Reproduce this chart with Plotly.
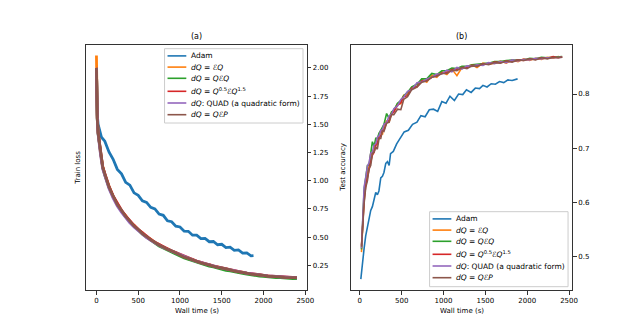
import plotly.graph_objects as go

# ---------------- data ----------------
SERIES_NAMES = [
    "Adam",
    "<i>dQ</i> = <i>ℰQ</i>",
    "<i>dQ</i> = <i>QℰQ</i>",
    "<i>dQ</i> = <i>Q</i><sup>0.5</sup><i>ℰQ</i><sup>1.5</sup>",
    "<i>dQ</i>: QUAD (a quadratic form)",
    "<i>dQ</i> = <i>QℰP</i>",
]
COLORS = ["#1f77b4", "#ff7f0e", "#2ca02c", "#d62728", "#9467bd", "#8c564b"]

# (a) train loss
ADAM_LOSS_T = [0, 5, 10, 20, 35, 60, 100, 150, 200, 250, 300, 350, 400, 450, 500, 550, 600,
               650, 700, 750, 800, 850, 900, 950, 1000, 1050, 1100, 1150, 1200, 1250, 1300,
               1350, 1400, 1450, 1500, 1550, 1600, 1650, 1700, 1750, 1800, 1850, 1880]
ADAM_LOSS = [2.00, 1.74, 1.58, 1.50, 1.445, 1.385, 1.35, 1.255, 1.19, 1.10, 1.06, 0.985,
             0.96, 0.892, 0.87, 0.822, 0.808, 0.764, 0.75, 0.704, 0.693, 0.644, 0.636,
             0.597, 0.59, 0.552, 0.551, 0.517, 0.518, 0.487, 0.488, 0.459, 0.461, 0.432,
             0.436, 0.407, 0.411, 0.382, 0.386, 0.358, 0.36, 0.334, 0.336]

LOSS_T = [0, 5, 10, 20, 35, 50, 75, 100, 150, 200, 250, 300, 350, 400, 450, 500, 550, 600,
          650, 700, 750, 800, 850, 900, 950, 1000, 1050, 1100, 1150, 1200, 1250, 1300, 1350,
          1400, 1450, 1500, 1550, 1600, 1650, 1700, 1750, 1800, 1850, 1900, 1950, 2000, 2050,
          2100, 2150, 2200, 2250, 2300, 2350, 2400]
LOSS_EQ = [2.11, 1.76, 1.56, 1.43, 1.33, 1.235, 1.125, 1.055,
           0.95, 0.855, 0.795, 0.73, 0.69, 0.636, 0.605, 0.563, 0.537, 0.499,
           0.481, 0.449, 0.434, 0.407, 0.396, 0.373, 0.363, 0.337, 0.327, 0.307,
           0.301, 0.282, 0.276, 0.259, 0.255, 0.239, 0.236, 0.222, 0.219, 0.205,
           0.203, 0.19, 0.189, 0.176, 0.176, 0.165, 0.166, 0.156, 0.157, 0.150,
           0.151, 0.145, 0.146, 0.140, 0.141, 0.137]
LOSS_QEQ = [1.99, 1.71, 1.54, 1.415, 1.32, 1.235, 1.115, 1.05,
            0.94, 0.86, 0.785, 0.732, 0.678, 0.636, 0.594, 0.562, 0.526, 0.498,
            0.469, 0.446, 0.421, 0.403, 0.384, 0.368, 0.351, 0.332, 0.316, 0.303,
            0.289, 0.277, 0.264, 0.255, 0.243, 0.235, 0.223, 0.217, 0.206, 0.200,
            0.191, 0.186, 0.178, 0.172, 0.165, 0.161, 0.155, 0.152, 0.147, 0.145,
            0.141, 0.140, 0.136, 0.135, 0.133, 0.132]
LOSS_Q05 = [2.00, 1.73, 1.555, 1.425, 1.33, 1.245, 1.125, 1.065,
            0.95, 0.865, 0.795, 0.738, 0.688, 0.643, 0.604, 0.569, 0.537, 0.505,
            0.48, 0.455, 0.433, 0.412, 0.396, 0.378, 0.363, 0.342, 0.327, 0.312,
            0.301, 0.287, 0.276, 0.264, 0.255, 0.244, 0.236, 0.227, 0.219, 0.210,
            0.202, 0.195, 0.188, 0.181, 0.175, 0.170, 0.165, 0.161, 0.157, 0.154,
            0.151, 0.149, 0.146, 0.144, 0.142, 0.141]
LOSS_QUAD = [2.00, 1.72, 1.545, 1.41, 1.31, 1.225, 1.105, 1.045,
             0.93, 0.845, 0.775, 0.72, 0.668, 0.627, 0.589, 0.556, 0.524, 0.496,
             0.471, 0.447, 0.427, 0.407, 0.391, 0.374, 0.358, 0.339, 0.324, 0.309,
             0.298, 0.285, 0.274, 0.262, 0.253, 0.243, 0.234, 0.226, 0.217, 0.209,
             0.201, 0.194, 0.187, 0.180, 0.174, 0.169, 0.164, 0.160, 0.156, 0.153,
             0.150, 0.148, 0.145, 0.143, 0.141, 0.139]
LOSS_QEP = [2.00, 1.72, 1.55, 1.42, 1.325, 1.24, 1.12, 1.06,
            0.945, 0.862, 0.788, 0.737, 0.683, 0.642, 0.598, 0.569, 0.531, 0.505,
            0.475, 0.454, 0.428, 0.412, 0.391, 0.378, 0.358, 0.342, 0.322, 0.311,
            0.296, 0.286, 0.271, 0.263, 0.250, 0.243, 0.231, 0.226, 0.214, 0.209,
            0.198, 0.194, 0.184, 0.180, 0.171, 0.169, 0.161, 0.160, 0.153, 0.153,
            0.147, 0.148, 0.142, 0.143, 0.139, 0.140]

# (b) test accuracy
ADAM_ACC_T = [12, 30, 51, 70, 90, 110, 130, 150, 169, 190, 210, 228, 250, 270, 288, 310, 330,
              350, 367, 400, 440, 485, 530, 580, 630, 683, 730, 780, 830, 880, 930, 980, 1030,
              1077, 1130, 1180, 1230, 1274, 1330, 1380, 1430, 1471, 1520, 1570, 1620, 1669,
              1720, 1770, 1820, 1885]
ADAM_ACC = [0.458, 0.492, 0.515, 0.538, 0.552, 0.565, 0.585, 0.592, 0.603, 0.618, 0.614,
            0.621, 0.645, 0.648, 0.655, 0.672, 0.675, 0.668, 0.690, 0.694, 0.708, 0.718,
            0.730, 0.733, 0.744, 0.748, 0.760, 0.758, 0.771, 0.772, 0.768, 0.786, 0.783,
            0.796, 0.788, 0.800, 0.799, 0.808, 0.803, 0.811, 0.810, 0.816, 0.813, 0.819,
            0.818, 0.823, 0.821, 0.826, 0.825, 0.828]

ACC_T = [20, 35, 51, 70, 91, 110, 130, 150, 170, 190, 209, 230, 250, 270, 288, 320, 350, 380,
         406, 450, 490, 524, 570, 620, 683, 740, 800, 860, 920, 980, 1040, 1100, 1160, 1220,
         1280, 1340, 1400, 1471, 1540, 1610, 1680, 1750, 1820, 1890, 1960, 2030, 2100, 2170,
         2240, 2310, 2370, 2418]
ACC_EQ = [0.508, 0.57, 0.612, 0.635, 0.658, 0.665, 0.689, 0.69, 0.703, 0.71,
          0.706, 0.726, 0.73, 0.725, 0.742, 0.75, 0.748, 0.767, 0.768, 0.782,
          0.782, 0.798, 0.799, 0.812, 0.813, 0.827, 0.822, 0.835, 0.831, 0.841,
          0.836, 0.846, 0.834, 0.849, 0.851, 0.854, 0.849, 0.857, 0.855, 0.857,
          0.861, 0.857, 0.863, 0.86, 0.865, 0.862, 0.866, 0.864, 0.868, 0.866,
          0.869, 0.868]
ACC_QEQ = [0.513, 0.58, 0.622, 0.645, 0.668, 0.668, 0.692, 0.712, 0.703, 0.718,
           0.718, 0.728, 0.733, 0.74, 0.744, 0.764, 0.755, 0.767, 0.77, 0.783,
           0.788, 0.797, 0.803, 0.813, 0.818, 0.828, 0.828, 0.838, 0.836, 0.843,
           0.843, 0.848, 0.847, 0.851, 0.851, 0.854, 0.855, 0.857, 0.857, 0.86,
           0.86, 0.862, 0.862, 0.863, 0.863, 0.866, 0.865, 0.868, 0.867, 0.868,
           0.868, 0.869]
ACC_Q05 = [0.52, 0.568, 0.602, 0.63, 0.645, 0.665, 0.675, 0.687, 0.692, 0.705,
           0.709, 0.72, 0.723, 0.733, 0.733, 0.748, 0.752, 0.763, 0.767, 0.779,
           0.784, 0.795, 0.797, 0.811, 0.814, 0.824, 0.825, 0.831, 0.834, 0.839,
           0.84, 0.845, 0.845, 0.849, 0.849, 0.853, 0.852, 0.856, 0.855, 0.859,
           0.858, 0.861, 0.86, 0.863, 0.862, 0.865, 0.864, 0.867, 0.866, 0.869,
           0.867, 0.869]
ACC_QUAD = [0.515, 0.585, 0.628, 0.645, 0.667, 0.673, 0.691, 0.692, 0.706, 0.708,
            0.72, 0.723, 0.733, 0.734, 0.744, 0.747, 0.76, 0.763, 0.773, 0.778,
            0.79, 0.794, 0.805, 0.808, 0.821, 0.822, 0.828, 0.831, 0.837, 0.837,
            0.844, 0.841, 0.849, 0.846, 0.852, 0.851, 0.854, 0.853, 0.858, 0.856,
            0.86, 0.858, 0.863, 0.861, 0.864, 0.863, 0.866, 0.865, 0.867, 0.867,
            0.868, 0.868]
ACC_QEP = [0.518, 0.56, 0.598, 0.627, 0.64, 0.662, 0.668, 0.69, 0.693, 0.702,
           0.698, 0.718, 0.718, 0.732, 0.731, 0.746, 0.748, 0.762, 0.762, 0.772,
           0.771, 0.79, 0.795, 0.808, 0.813, 0.822, 0.824, 0.831, 0.833, 0.838,
           0.838, 0.844, 0.843, 0.849, 0.847, 0.852, 0.851, 0.856, 0.854, 0.858,
           0.857, 0.861, 0.859, 0.863, 0.862, 0.865, 0.863, 0.867, 0.865, 0.868,
           0.867, 0.868]

TIME_TICKS = [0, 500, 1000, 1500, 2000, 2500]
LOSS_TICKS = [0.25, 0.50, 0.75, 1.00, 1.25, 1.50, 1.75, 2.00]
ACC_TICKS = [0.5, 0.6, 0.7, 0.8]
PANEL_TITLES = ["(a)", "(b)"]
X_LABEL = "Wall time (s)"
Y_LABELS = ["Train loss", "Test accuracy"]

# ---------------- figure ----------------
W, H = 634, 317
FONT = "DejaVu Sans, Liberation Sans, sans-serif"


def fx(p):
    return p / W


def fy(p):
    return 1 - p / H


fig = go.Figure()

loss_series = [(ADAM_LOSS_T, ADAM_LOSS), (LOSS_T, LOSS_EQ), (LOSS_T, LOSS_QEQ),
               (LOSS_T, LOSS_Q05), (LOSS_T, LOSS_QUAD), (LOSS_T, LOSS_QEP)]
acc_series = [(ADAM_ACC_T, ADAM_ACC), (ACC_T, ACC_EQ), (ACC_T, ACC_QEQ),
              (ACC_T, ACC_Q05), (ACC_T, ACC_QUAD), (ACC_T, ACC_QEP)]

for (t, v), name, c in zip(loss_series, SERIES_NAMES, COLORS):
    fig.add_trace(go.Scatter(x=t, y=v, mode="lines", name=name, showlegend=False,
                             line=dict(color=c, width=2.8), xaxis="x", yaxis="y"))
for (t, v), name, c in zip(acc_series, SERIES_NAMES, COLORS):
    fig.add_trace(go.Scatter(x=t, y=v, mode="lines", name=name, showlegend=False,
                             line=dict(color=c, width=1.6), xaxis="x2", yaxis="y2"))

panels = [(79.3, 302.3), (347.3, 570.7)]
top_px, bot_px = 37.3, 282.0

axis_common = dict(showline=True, mirror=True, linecolor="#333", linewidth=1,
                   ticks="outside", ticklen=3.5, tickwidth=0.8, tickcolor="#333",
                   showgrid=False, zeroline=False,
                   tickfont=dict(family=FONT, size=7, color="#000"))

fig.update_layout(
    width=W, height=H,
    margin=dict(l=0, r=0, t=0, b=0),
    paper_bgcolor="white", plot_bgcolor="white",
    showlegend=False,
    xaxis=dict(domain=[fx(panels[0][0]), fx(panels[0][1])], range=[-120, 2520],
               tickvals=TIME_TICKS, anchor="y", **axis_common),
    yaxis=dict(domain=[fy(bot_px), fy(top_px)], range=[0.031, 2.2], side="right",
               tickvals=LOSS_TICKS, tickformat=".2f", anchor="x", **axis_common),
    xaxis2=dict(domain=[fx(panels[1][0]), fx(panels[1][1])], range=[-100, 2540],
                tickvals=TIME_TICKS, anchor="y2", **axis_common),
    yaxis2=dict(domain=[fy(bot_px), fy(top_px)], range=[0.438, 0.89], side="right",
                tickvals=ACC_TICKS, tickformat=".1f", anchor="x2", **axis_common),
)

annotations = []
shapes = []
for i, (l, r) in enumerate(panels):
    cx = (l + r) / 2
    annotations.append(dict(text=PANEL_TITLES[i], x=fx(cx), y=fy(29), xref="paper", yref="paper",
                            showarrow=False, xanchor="center", yanchor="middle",
                            font=dict(family=FONT, size=8, color="#000")))
    annotations.append(dict(text=X_LABEL, x=fx(cx), y=fy(302.5), xref="paper", yref="paper",
                            showarrow=False, xanchor="center", yanchor="middle",
                            font=dict(family=FONT, size=7, color="#000")))
    annotations.append(dict(text=Y_LABELS[i], x=fx(l - 8.5), y=fy((top_px + bot_px) / 2),
                            xref="paper", yref="paper", showarrow=False, textangle=-90,
                            xanchor="center", yanchor="middle",
                            font=dict(family=FONT, size=7, color="#000")))

# hand-built legends (matplotlib style)
legend_boxes = [(158.3, 40.7, 298.3, 115.0), (426.3, 203.7, 566.3, 278.7)]
row_offsets = [7.2, 18.4, 29.6, 42.6, 54.3, 66.0]
for (bl, bt, br, bb) in legend_boxes:
    shapes.append(dict(type="rect", xref="paper", yref="paper", x0=fx(bl), x1=fx(br),
                       y0=fy(bb), y1=fy(bt), line=dict(color="#cccccc", width=1),
                       fillcolor="rgba(255,255,255,0.85)", layer="above"))
    for name, c, off in zip(SERIES_NAMES, COLORS, row_offsets):
        yy = bt + off
        shapes.append(dict(type="line", xref="paper", yref="paper", x0=fx(bl + 3), x1=fx(bl + 22),
                           y0=fy(yy), y1=fy(yy), line=dict(color=c, width=1.6), layer="above"))
        annotations.append(dict(text=name, x=fx(bl + 25), y=fy(yy), xref="paper", yref="paper",
                                showarrow=False, xanchor="left", yanchor="middle",
                                font=dict(family=FONT, size=7.5, color="#000")))

fig.update_layout(annotations=annotations, shapes=shapes)
fig.write_html("out.html")
